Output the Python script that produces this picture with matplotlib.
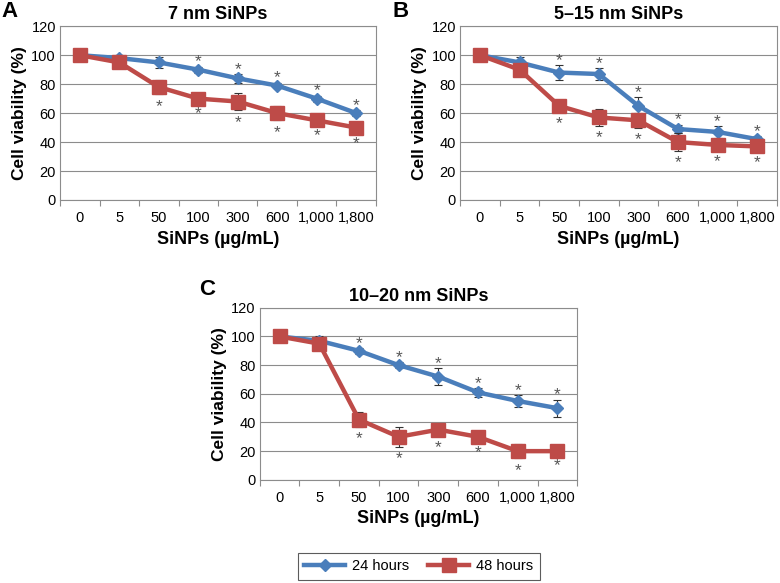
import matplotlib
matplotlib.use("Agg")
import matplotlib.pyplot as plt
import numpy as np

plt.rcParams['font.family'] = ['Liberation Sans', 'DejaVu Sans']

doses = ["0", "5", "50", "100", "300", "600", "1,000", "1,800"]

# 7 nm SiNPs
a_24 = [100, 98, 95, 90, 84, 79, 70, 60]
a_24_err = [2, 2, 4, 2, 3, 2, 2, 2]
a_48 = [100, 95, 78, 70, 68, 60, 55, 50]
a_48_err = [2, 3, 5, 2, 6, 5, 2, 3]
a_24_sig = [0, 0, 0, 1, 1, 1, 1, 1]
a_48_sig = [0, 0, 1, 1, 1, 1, 1, 1]

# 5-15 nm SiNPs
b_24 = [100, 95, 88, 87, 65, 49, 47, 42]
b_24_err = [2, 4, 5, 4, 6, 3, 4, 2]
b_48 = [100, 90, 65, 57, 55, 40, 38, 37]
b_48_err = [2, 4, 4, 6, 5, 6, 3, 3]
b_24_sig = [0, 0, 1, 1, 1, 1, 1, 1]
b_48_sig = [0, 0, 1, 1, 1, 1, 1, 1]

# 10-20 nm SiNPs
c_24 = [100, 97, 90, 80, 72, 61, 55, 50]
c_24_err = [2, 3, 2, 2, 6, 3, 4, 6]
c_48 = [100, 95, 42, 30, 35, 30, 20, 20]
c_48_err = [2, 3, 5, 7, 4, 3, 5, 2]
c_24_sig = [0, 0, 1, 1, 1, 1, 1, 1]
c_48_sig = [0, 0, 1, 1, 1, 1, 1, 1]

BLUE = '#4a7ebb'
RED = '#be4b48'
GRID = '#8c8c8c'


def draw_panel(ax, title, s24, e24, g24, s48, e48, g48):
    x = np.arange(len(doses))
    ax.errorbar(x, s24, yerr=e24, color=BLUE, lw=3.2, marker='D', ms=6.5,
                ecolor='#333333', elinewidth=0.8, capsize=3, capthick=0.8,
                zorder=3)
    ax.errorbar(x, s48, yerr=e48, color=RED, lw=3.2, marker='s', ms=9.5,
                ecolor='#333333', elinewidth=0.8, capsize=3, capthick=0.8,
                zorder=4)
    for i in range(len(doses)):
        if g24[i]:
            ax.annotate('*', (x[i], s24[i] + e24[i]), xytext=(0, -2),
                        textcoords='offset points', ha='center', va='bottom',
                        fontsize=12.5, color='#555555')
        if g48[i]:
            ax.annotate('*', (x[i], s48[i] - e48[i]), xytext=(0, -14),
                        textcoords='offset points', ha='center', va='bottom',
                        fontsize=12.5, color='#555555')

    ax.set_xlim(-0.5, len(doses) - 0.5)
    ax.set_ylim(0, 120)
    ax.set_yticks(np.arange(0, 121, 20))
    ax.set_xticks(x)
    ax.set_xticklabels(doses)
    ax.set_xticks(np.arange(-0.5, len(doses), 1), minor=True)
    ax.tick_params(axis='x', which='major', length=0, pad=8, labelsize=10.5)
    ax.tick_params(axis='x', which='minor', length=4, color=GRID, width=0.8)
    ax.tick_params(axis='y', length=0, pad=3, labelsize=10.5)
    ax.grid(axis='y', color=GRID, lw=0.8)
    ax.set_axisbelow(True)
    for sp in ax.spines.values():
        sp.set_color(GRID)
        sp.set_linewidth(0.8)
    ax.set_title(title, fontsize=13, fontweight='bold', pad=5)
    ax.set_xlabel('SiNPs (\u00b5g/mL)', fontsize=13, fontweight='bold', labelpad=4)
    ax.set_ylabel('Cell viability (%)', fontsize=12.5, fontweight='bold', labelpad=3)
    return ax


fig = plt.figure(figsize=(7.8, 5.83), dpi=100)

ax_a = fig.add_axes([0.077, 0.657, 0.405, 0.298])
draw_panel(ax_a, '7 nm SiNPs', a_24, a_24_err, a_24_sig, a_48, a_48_err, a_48_sig)

ax_b = fig.add_axes([0.590, 0.657, 0.406, 0.298])
draw_panel(ax_b, '5\u201315 nm SiNPs', b_24, b_24_err, b_24_sig, b_48, b_48_err, b_48_sig)

ax_c = fig.add_axes([0.333, 0.177, 0.407, 0.295])
draw_panel(ax_c, '10\u201320 nm SiNPs', c_24, c_24_err, c_24_sig, c_48, c_48_err, c_48_sig)

# panel letters
fig.text(0.002, 0.998, 'A', fontsize=16, fontweight='bold', va='top')
fig.text(0.503, 0.998, 'B', fontsize=16, fontweight='bold', va='top')
fig.text(0.255, 0.522, 'C', fontsize=16, fontweight='bold', va='top')

# legend handles: line + marker only, as in the original
h24 = plt.Line2D([], [], color=BLUE, lw=3.2, marker='D', ms=6.5)
h48 = plt.Line2D([], [], color=RED, lw=3.2, marker='s', ms=9.5)
leg = fig.legend([h24, h48], ['24 hours', '48 hours'], loc='upper center',
                 bbox_to_anchor=(0.537, 0.052), ncol=2, frameon=True, fancybox=False,
                 edgecolor='#333333', fontsize=10.5, handlelength=2.8,
                 columnspacing=1.3, borderpad=0.45, handletextpad=0.5, borderaxespad=0)
leg.get_frame().set_linewidth(0.8)

fig.savefig('out.png', dpi=100)
